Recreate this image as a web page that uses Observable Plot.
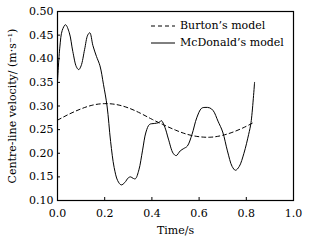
<!DOCTYPE html>
<html>
<head>
<meta charset="utf-8">
<script src="https://cdn.jsdelivr.net/npm/d3@7"></script>
<script src="https://cdn.jsdelivr.net/npm/@observablehq/plot@0.6"></script>
<style>
  html, body { margin: 0; padding: 0; background: #fff; }
  #wrap { position: relative; width: 323px; height: 244px; font-family: "DejaVu Serif", serif; }
  #wrap svg text { font-family: "DejaVu Serif", serif; }
  #legend { position: absolute; left: 151px; top: 17px; font-size: 11px; color: #000; line-height: 17px; }
  #legend .row { display: flex; align-items: center; white-space: nowrap; }
  #legend svg { margin-right: 5px; }
</style>
</head>
<body>
<div id="wrap"><div id="legend"></div></div>
<script>
const xTicks = [0, 0.2, 0.4, 0.6, 0.8, 1.0];
const yTicks = [0.10, 0.15, 0.20, 0.25, 0.30, 0.35, 0.40, 0.45, 0.50];
const seriesNames = ["Burton\u2019s model", "McDonald\u2019s model"];

const burtonT = [0, 0.05, 0.1, 0.15, 0.2, 0.25, 0.3, 0.35, 0.4, 0.45, 0.5, 0.55, 0.6, 0.65, 0.7, 0.75, 0.8, 0.83];
const burtonV = [0.270, 0.283, 0.294, 0.302, 0.305, 0.303, 0.296, 0.285, 0.272, 0.260, 0.249, 0.240, 0.235, 0.234, 0.238, 0.246, 0.257, 0.265];

const mcdT = [0.000, 0.010, 0.020, 0.034, 0.050, 0.065, 0.080, 0.090, 0.100, 0.115, 0.128, 0.137, 0.150, 0.165, 0.180, 0.195, 0.210, 0.225, 0.240, 0.255, 0.270, 0.285, 0.300, 0.310, 0.320, 0.330, 0.345, 0.360, 0.375, 0.390, 0.410, 0.430, 0.440, 0.455, 0.470, 0.490, 0.503, 0.520, 0.535, 0.550, 0.570, 0.590, 0.610, 0.625, 0.645, 0.660, 0.680, 0.700, 0.720, 0.740, 0.754, 0.770, 0.790, 0.810, 0.820, 0.835];
const mcdV = [0.352, 0.425, 0.460, 0.472, 0.455, 0.415, 0.383, 0.377, 0.385, 0.420, 0.450, 0.455, 0.428, 0.405, 0.385, 0.345, 0.300, 0.225, 0.170, 0.142, 0.133, 0.138, 0.148, 0.150, 0.147, 0.146, 0.165, 0.205, 0.245, 0.261, 0.263, 0.265, 0.269, 0.255, 0.230, 0.200, 0.195, 0.205, 0.210, 0.215, 0.240, 0.275, 0.295, 0.297, 0.296, 0.290, 0.268, 0.245, 0.205, 0.172, 0.164, 0.172, 0.200, 0.240, 0.265, 0.350];

const burton = burtonT.map((t, i) => ({t, v: burtonV[i]}));
const mcd = mcdT.map((t, i) => ({t, v: mcdV[i]}));

const chart = Plot.plot({
  width: 323,
  height: 244,
  marginLeft: 57,
  marginRight: 30,
  marginTop: 11,
  marginBottom: 44,
  style: {fontFamily: "'DejaVu Serif', serif", fontSize: "11px", color: "#000", background: "#fff"},
  x: {domain: [0, 1.0]},
  y: {domain: [0.10, 0.50]},
  marks: [
    Plot.frame({stroke: "#000", strokeWidth: 1.2}),
    Plot.axisX({ticks: xTicks, tickFormat: d3.format(".1f"), tickSize: -3, tickPadding: 12, label: null, stroke: "#000", fontSize: 11}),
    Plot.axisY({ticks: yTicks, tickFormat: d3.format(".2f"), tickSize: -3, tickPadding: 7, label: null, stroke: "#000", fontSize: 11}),
    Plot.line(burton, {x: "t", y: "v", stroke: "#000", strokeWidth: 1, strokeDasharray: "4,3", curve: "natural"}),
    Plot.line(mcd, {x: "t", y: "v", stroke: "#000", strokeWidth: 1, curve: "catmull-rom"}),
    Plot.text(["Time/s"], {frameAnchor: "bottom", dy: 33, text: d => d, fontSize: 11, textAnchor: "middle"}),
    Plot.text(["Centre-line velocity/ (m\u00b7s\u207b\u00b9)"], {frameAnchor: "left", dx: -45, rotate: -90, text: d => d, fontSize: 11, textAnchor: "middle"})
  ]
});
document.getElementById("wrap").prepend(chart);

const legend = document.getElementById("legend");
const dashes = ["4,3", null];
seriesNames.forEach((name, i) => {
  const row = document.createElement("div");
  row.className = "row";
  const ns = "http://www.w3.org/2000/svg";
  const s = document.createElementNS(ns, "svg");
  s.setAttribute("width", 24); s.setAttribute("height", 10);
  const l = document.createElementNS(ns, "line");
  l.setAttribute("x1", 0); l.setAttribute("x2", 24); l.setAttribute("y1", 5); l.setAttribute("y2", 5);
  l.setAttribute("stroke", "#000"); l.setAttribute("stroke-width", 1);
  if (dashes[i]) l.setAttribute("stroke-dasharray", dashes[i]);
  s.appendChild(l);
  row.appendChild(s);
  const span = document.createElement("span");
  span.textContent = name;
  row.appendChild(span);
  legend.appendChild(row);
});
</script>
</body>
</html>
